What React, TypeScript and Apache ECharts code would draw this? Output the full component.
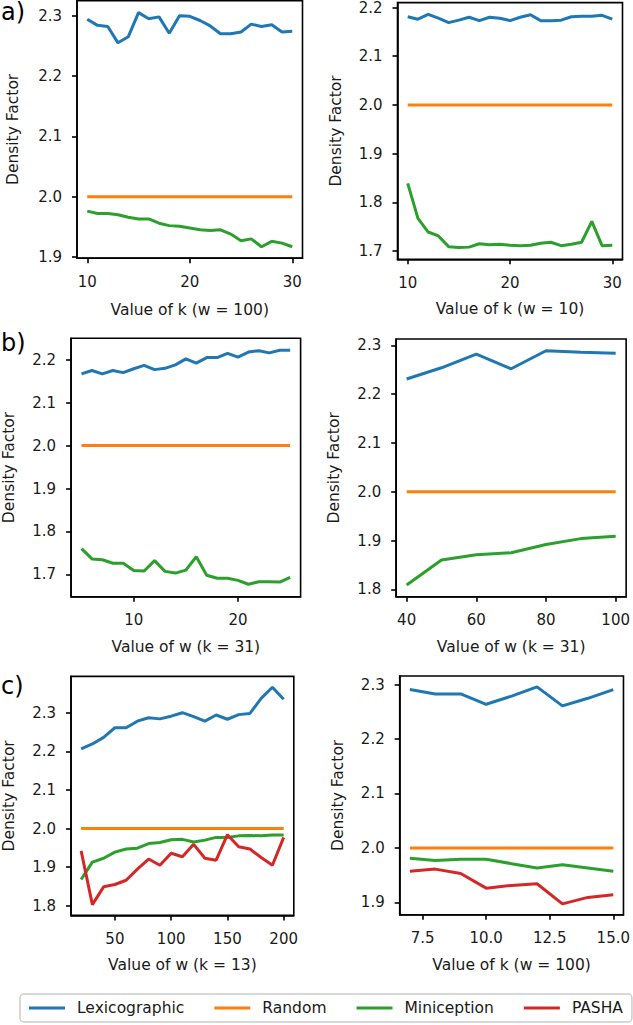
import React, { useEffect, useRef } from "react";
import * as echarts from "echarts";

const seriesNames = ["Lexicographic", "Random", "Miniception", "PASHA"];
const colors = ["#1f77b4", "#ff7f0e", "#2ca02c", "#d62728"];

// a) left : Value of k (w = 100)
const kA1 = [10, 11, 12, 13, 14, 15, 16, 17, 18, 19, 20, 21, 22, 23, 24, 25, 26, 27, 28, 29, 30];
const lexA1 = [2.294, 2.284, 2.282, 2.255, 2.265, 2.305, 2.295, 2.298, 2.271, 2.3, 2.299, 2.292, 2.283, 2.27, 2.27, 2.273, 2.286, 2.282, 2.285, 2.273, 2.274];
const randA1 = [2, 2, 2, 2, 2, 2, 2, 2, 2, 2, 2, 2, 2, 2, 2, 2, 2, 2, 2, 2, 2];
const miniA1 = [1.976, 1.972, 1.972, 1.97, 1.966, 1.963, 1.963, 1.956, 1.952, 1.951, 1.948, 1.945, 1.944, 1.945, 1.938, 1.927, 1.93, 1.917, 1.926, 1.923, 1.917];

// a) right : Value of k (w = 10)
const kA2 = [10, 11, 12, 13, 14, 15, 16, 17, 18, 19, 20, 21, 22, 23, 24, 25, 26, 27, 28, 29, 30];
const lexA2 = [2.181, 2.176, 2.186, 2.178, 2.169, 2.174, 2.18, 2.173, 2.18, 2.178, 2.173, 2.18, 2.185, 2.173, 2.173, 2.174, 2.181, 2.182, 2.182, 2.184, 2.176];
const randA2 = [2, 2, 2, 2, 2, 2, 2, 2, 2, 2, 2, 2, 2, 2, 2, 2, 2, 2, 2, 2, 2];
const miniA2 = [1.839, 1.767, 1.739, 1.731, 1.709, 1.707, 1.708, 1.715, 1.713, 1.714, 1.712, 1.711, 1.712, 1.716, 1.718, 1.711, 1.714, 1.718, 1.761, 1.711, 1.712];

// b) left : Value of w (k = 31)
const wB1 = [5, 6, 7, 8, 9, 10, 11, 12, 13, 14, 15, 16, 17, 18, 19, 20, 21, 22, 23, 24, 25];
const lexB1 = [2.167, 2.175, 2.167, 2.175, 2.17, 2.179, 2.187, 2.177, 2.18, 2.188, 2.202, 2.192, 2.205, 2.205, 2.215, 2.206, 2.218, 2.221, 2.216, 2.222, 2.222];
const randB1 = [2, 2, 2, 2, 2, 2, 2, 2, 2, 2, 2, 2, 2, 2, 2, 2, 2, 2, 2, 2, 2];
const miniB1 = [1.76, 1.736, 1.734, 1.726, 1.726, 1.709, 1.708, 1.732, 1.707, 1.703, 1.71, 1.741, 1.698, 1.691, 1.691, 1.686, 1.677, 1.683, 1.683, 1.682, 1.693];

// b) right : Value of w (k = 31)
const wB2 = [40, 50, 60, 70, 80, 90, 100];
const lexB2 = [2.231, 2.254, 2.282, 2.252, 2.289, 2.286, 2.284];
const randB2 = [2, 2, 2, 2, 2, 2, 2];
const miniB2 = [1.809, 1.86, 1.871, 1.875, 1.892, 1.904, 1.909];

// c) left : Value of w (k = 13)
const wC1 = [20, 30, 40, 50, 60, 70, 80, 90, 100, 110, 120, 130, 140, 150, 160, 170, 180, 190, 200];
const lexC1 = [2.206, 2.219, 2.236, 2.261, 2.261, 2.278, 2.287, 2.284, 2.291, 2.3, 2.29, 2.278, 2.294, 2.283, 2.295, 2.298, 2.337, 2.366, 2.335];
const randC1 = [2, 2, 2, 2, 2, 2, 2, 2, 2, 2, 2, 2, 2, 2, 2, 2, 2, 2, 2];
const miniC1 = [1.868, 1.913, 1.923, 1.939, 1.947, 1.949, 1.961, 1.964, 1.971, 1.972, 1.965, 1.97, 1.977, 1.977, 1.981, 1.982, 1.981, 1.983, 1.983];
const pashaC1 = [1.942, 1.803, 1.849, 1.855, 1.866, 1.895, 1.921, 1.905, 1.936, 1.927, 1.959, 1.923, 1.918, 1.984, 1.953, 1.947, 1.925, 1.905, 1.977];

// c) right : Value of k (w = 100)
const kC2 = [7, 8, 9, 10, 11, 12, 13, 14, 15];
const lexC2 = [2.291, 2.283, 2.283, 2.264, 2.279, 2.296, 2.261, 2.275, 2.291];
const randC2 = [2, 2, 2, 2, 2, 2, 2, 2, 2];
const miniC2 = [1.981, 1.977, 1.979, 1.979, 1.971, 1.963, 1.969, 1.963, 1.957];
const pashaC2 = [1.957, 1.961, 1.953, 1.926, 1.931, 1.934, 1.897, 1.909, 1.914];

// tick labels
const xTicksA1 = [10, 20, 30];
const xTicksA2 = [10, 20, 30];
const xTicksB1 = [10, 20];
const xTicksB2 = [40, 60, 80, 100];
const xTicksC1 = [50, 100, 150, 200];
const xTicksC2 = [7.5, 10, 12.5, 15];
const yTicksA1 = [1.9, 2.0, 2.1, 2.2, 2.3];
const yTicksA2 = [1.7, 1.8, 1.9, 2.0, 2.1, 2.2];
const yTicksB1 = [1.7, 1.8, 1.9, 2.0, 2.1, 2.2];
const yTicksB2 = [1.8, 1.9, 2.0, 2.1, 2.2, 2.3];
const yTicksC1 = [1.8, 1.9, 2.0, 2.1, 2.2, 2.3];
const yTicksC2 = [1.9, 2.0, 2.1, 2.2, 2.3];

const xNames = [
  "Value of k (w = 100)",
  "Value of k (w = 10)",
  "Value of w (k = 31)",
  "Value of w (k = 31)",
  "Value of w (k = 13)",
  "Value of k (w = 100)",
];

const FONT = "DejaVu Sans";
const TXT = "#1a1a1a";

type Panel = {
  xs: number[];
  ys: (number[] | null)[];
  xTicks: number[];
  yTicks: number[];
  xDigits: number;
  grid: { left: number; top: number; width: number; height: number };
  xr: [number, number];
  yr: [number, number];
  yNameGap: number;
  xNameGap: number;
};

const panels: Panel[] = [
  { xs: kA1, ys: [lexA1, randA1, miniA1, null], xTicks: xTicksA1, yTicks: yTicksA1, xDigits: 0,
    grid: { left: 77, top: 0.6, width: 225.5, height: 257.6 }, xr: [9, 31], yr: [1.898, 2.325], yNameGap: 56, xNameGap: 44 },
  { xs: kA2, ys: [lexA2, randA2, miniA2, null], xTicks: xTicksA2, yTicks: yTicksA2, xDigits: 0,
    grid: { left: 397.5, top: 0.8, width: 225, height: 258.5 }, xr: [9, 31], yr: [1.683, 2.21], yNameGap: 54, xNameGap: 42 },
  { xs: wB1, ys: [lexB1, randB1, miniB1, null], xTicks: xTicksB1, yTicks: yTicksB1, xDigits: 0,
    grid: { left: 71.1, top: 338.3, width: 229.5, height: 258.4 }, xr: [4, 26], yr: [1.648, 2.25], yNameGap: 54, xNameGap: 42 },
  { xs: wB2, ys: [lexB2, randB2, miniB2, null], xTicks: xTicksB2, yTicks: yTicksB2, xDigits: 0,
    grid: { left: 396.2, top: 339, width: 230.3, height: 257.7 }, xr: [37, 103], yr: [1.785, 2.313], yNameGap: 54, xNameGap: 42 },
  { xs: wC1, ys: [lexC1, randC1, miniC1, pashaC1], xTicks: xTicksC1, yTicks: yTicksC1, xDigits: 0,
    grid: { left: 70.3, top: 676.4, width: 223.5, height: 239 }, xr: [11, 209], yr: [1.775, 2.394], yNameGap: 54, xNameGap: 42 },
  { xs: kC2, ys: [lexC2, randC2, miniC2, pashaC2], xTicks: xTicksC2, yTicks: yTicksC2, xDigits: 1,
    grid: { left: 399.7, top: 676, width: 225.2, height: 238.8 }, xr: [6.6, 15.4], yr: [1.877, 2.316], yNameGap: 54, xNameGap: 42 },
];

const letters = [
  { t: "a)", top: 0 },
  { t: "b)", top: 331 },
  { t: "c)", top: 674 },
];

function buildOption() {
  const grids: any[] = [];
  const xAxes: any[] = [];
  const yAxes: any[] = [];
  const series: any[] = [];
  panels.forEach((p, i) => {
    grids.push({
      ...p.grid,
      show: true,
      borderColor: "#000",
      borderWidth: 1.6,
      backgroundColor: "transparent",
      containLabel: false,
    });
    xAxes.push({
      type: "value",
      gridIndex: i,
      min: p.xr[0],
      max: p.xr[1],
      name: xNames[i],
      nameLocation: "middle",
      nameGap: p.xNameGap,
      nameTextStyle: { fontFamily: FONT, fontSize: 15.5, color: TXT },
      axisLine: { show: true, onZero: false, lineStyle: { color: "#000", width: 1.6 } },
      axisTick: { show: true, length: 5, lineStyle: { color: "#000", width: 1.6 }, customValues: p.xTicks },
      axisLabel: {
        show: true,
        margin: 16,
        fontFamily: FONT,
        fontSize: 15,
        color: TXT,
        customValues: p.xTicks,
        formatter: (v: number) => v.toFixed(p.xDigits),
      },
      splitLine: { show: false },
    });
    yAxes.push({
      type: "value",
      gridIndex: i,
      min: p.yr[0],
      max: p.yr[1],
      name: "Density Factor",
      nameLocation: "middle",
      nameGap: p.yNameGap,
      nameTextStyle: { fontFamily: FONT, fontSize: 15.5, color: TXT },
      axisLine: { show: true, onZero: false, lineStyle: { color: "#000", width: 1.6 } },
      axisTick: { show: true, length: 5, lineStyle: { color: "#000", width: 1.6 }, customValues: p.yTicks },
      axisLabel: {
        show: true,
        margin: 15,
        fontFamily: FONT,
        fontSize: 15,
        color: TXT,
        customValues: p.yTicks,
        formatter: (v: number) => v.toFixed(1),
      },
      splitLine: { show: false },
    });
    p.ys.forEach((ys, s) => {
      if (!ys) return;
      series.push({
        type: "line",
        name: seriesNames[s],
        xAxisIndex: i,
        yAxisIndex: i,
        data: p.xs.map((x, j) => [x, ys[j]]),
        showSymbol: false,
        symbol: "none",
        lineStyle: { width: 3, color: colors[s] },
        itemStyle: { color: colors[s] },
        z: 2 + s,
      });
    });
  });

  return {
    animation: false,
    backgroundColor: "#ffffff",
    color: colors,
    textStyle: { fontFamily: FONT },
    grid: grids,
    xAxis: xAxes,
    yAxis: yAxes,
    series,
    legend: {
      data: seriesNames,
      left: 20,
      top: 994,
      orient: "horizontal",
      icon: "rect",
      itemWidth: 36,
      itemHeight: 3,
      itemGap: 30,
      padding: [6, 9, 6, 9],
      borderColor: "#cccccc",
      borderWidth: 1.5,
      borderRadius: 4,
      selectedMode: false,
      textStyle: { fontFamily: FONT, fontSize: 15.5, color: TXT, padding: [0, 0, 0, 7] },
    },
    graphic: letters.map((l) => ({
      type: "text",
      left: 1,
      top: l.top,
      style: { text: l.t, fontFamily: FONT, fontSize: 24, fill: "#000" },
    })),
  };
}

export default function App() {
  const ref = useRef<HTMLDivElement>(null);
  useEffect(() => {
    if (!ref.current) return;
    const chart = echarts.init(ref.current, null, { renderer: "svg" });
    chart.setOption(buildOption() as any);
    return () => chart.dispose();
  }, []);
  return (
    <div
      ref={ref}
      style={{ position: "absolute", left: 0, top: 0, width: 633, height: 1025, background: "#fff" }}
    />
  );
}
